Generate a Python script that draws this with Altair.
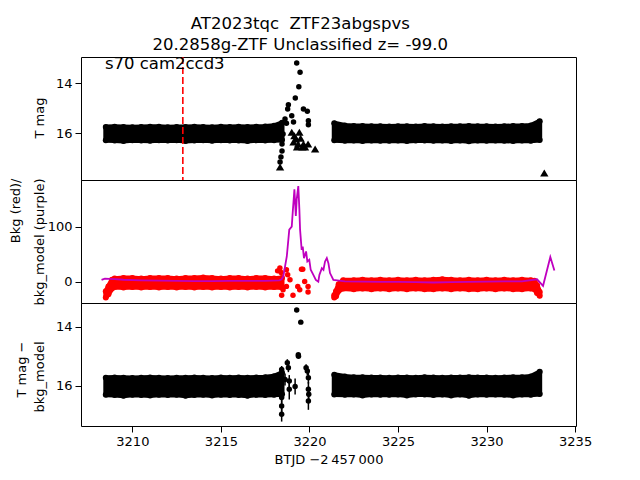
import altair as alt
import pandas as pd

FONT = "DejaVu Sans"
RED = "#ff0000"
PURPLE = "#bf00bf"

X_DOMAIN = [3207.1, 3235.05]
X_TICKS = [3210, 3215, 3220, 3225, 3230, 3235]

# ---------------- top panel: T mag ----------------
band1_t = [3208.5, 3209.0, 3209.5, 3210.0, 3210.5, 3211.0, 3211.5, 3212.0, 3212.5, 3213.0, 3213.5,
           3214.0, 3214.5, 3215.0, 3215.5, 3216.0, 3216.5, 3217.0, 3217.5, 3218.0, 3218.45]
band2_t = [3221.4, 3222.0, 3222.5, 3223.0, 3223.5, 3224.0, 3224.5, 3225.0, 3225.5, 3226.0, 3226.5, 3227.0,
           3227.5, 3228.0, 3228.5, 3229.0, 3229.5, 3230.0, 3230.5, 3231.0, 3231.5, 3232.0, 3232.5, 3233.0]

tmag1_hi = [15.75, 15.74, 15.75, 15.76, 15.75, 15.74, 15.74, 15.76, 15.75, 15.75, 15.74,
            15.75, 15.76, 15.74, 15.75, 15.74, 15.75, 15.74, 15.73, 15.70, 15.58]
tmag1_lo = [16.28, 16.29, 16.31, 16.28, 16.29, 16.30, 16.28, 16.29, 16.28, 16.31, 16.29,
            16.28, 16.30, 16.28, 16.29, 16.29, 16.31, 16.28, 16.29, 16.28, 16.27]
tmag2_hi = [15.60, 15.69, 15.71, 15.71, 15.72, 15.72, 15.73, 15.72, 15.72, 15.73, 15.71, 15.72,
            15.73, 15.72, 15.72, 15.71, 15.72, 15.72, 15.73, 15.72, 15.71, 15.71, 15.69, 15.52]
tmag2_lo = [16.28, 16.30, 16.29, 16.31, 16.29, 16.30, 16.30, 16.29, 16.31, 16.29, 16.29, 16.30,
            16.29, 16.31, 16.29, 16.32, 16.29, 16.30, 16.29, 16.30, 16.31, 16.29, 16.30, 16.27]

top_pt_t = [3219.28, 3219.47, 3219.40, 3219.20, 3218.81, 3218.77, 3219.66, 3219.88, 3219.94, 3219.94,
            3219.00, 3218.62, 3218.51, 3218.45, 3218.45, 3218.39, 3218.34, 3218.70, 3219.10]
top_pt_m = [13.19, 13.56, 14.14, 14.59, 14.86, 15.03, 15.03, 15.12, 15.50, 15.66,
            15.30, 15.43, 16.03, 16.43, 16.71, 16.95, 17.15, 15.60, 15.55]

top_tri_t = [3218.34, 3219.00, 3219.43, 3219.24, 3219.66, 3219.92, 3219.36, 3220.32, 3233.26,
             3219.15, 3219.50, 3219.60, 3219.75, 3219.30, 3219.10]
top_tri_m = [17.35, 15.96, 15.96, 16.23, 16.43, 16.43, 16.43, 16.63, 17.59,
             16.10, 16.20, 16.55, 16.55, 16.55, 16.35]

sector_line_t = [3212.85]
label_text = ["s70 cam2ccd3"]
label_t = [3208.45]
label_m = [13.43]

# ---------------- middle panel: background ----------------
bkg1_t = [3208.5, 3208.65, 3208.85, 3209.0, 3209.5, 3210.0, 3210.5, 3211.0, 3211.5, 3212.0, 3212.5,
          3213.0, 3213.5, 3214.0, 3214.5, 3215.0, 3215.5, 3216.0, 3216.5, 3217.0, 3217.5, 3218.0, 3218.45]
bkg1_hi = [-17, -8, 4, 6, 7, 7, 6, 7, 7, 7, 6, 7, 7, 8, 7, 6, 7, 7, 6, 7, 7, 6, 7]
bkg1_lo = [-28, -22, -12, -9, -10, -9, -10, -9, -10, -9, -10, -9, -10, -9, -10, -9, -10, -9, -10, -9, -10, -9, -10]

bkg2_t = [3221.4, 3221.5, 3221.65, 3221.9, 3222.5, 3223.0, 3223.5, 3224.0, 3224.5, 3225.0, 3225.5,
          3226.0, 3226.5, 3227.0, 3227.5, 3228.0, 3228.5, 3229.0, 3229.5, 3230.0, 3230.5, 3231.0,
          3231.5, 3232.0, 3232.5, 3232.7, 3232.85, 3233.0]
bkg2_hi = [-24, -17, -4, 3, 3, 4, 3, 4, 3, 4, 3, 4, 3, 4, 5, 4, 3, 4, 3, 4, 3, 4, 3, 4, 3, 2, -6, -18]
bkg2_lo = [-28, -26, -16, -12, -13, -12, -13, -12, -13, -12, -13, -12, -13, -13, -12, -13, -12, -13,
           -13, -12, -13, -12, -13, -13, -12, -13, -20, -25]

bkg_pt_t = [3218.33, 3218.70, 3218.77, 3219.55, 3218.51, 3219.07, 3219.34, 3219.45, 3219.73, 3219.92,
            3219.92, 3218.90, 3218.70, 3218.43, 3218.20, 3218.40, 3219.62]
bkg_pt_v = [25, 22, 13, 23, -14, -24, -8, -14, 1, -8, -18, 4, -8, -24, 20, 17, 23]

model_t = [3208.26, 3208.45, 3209.0, 3209.5, 3210.5, 3211.5, 3212.5, 3213.5, 3214.5, 3215.5, 3216.5,
           3217.5, 3218.3, 3218.43, 3218.52, 3218.72, 3218.86, 3219.00, 3219.06, 3219.15, 3219.23,
           3219.28, 3219.37, 3219.43, 3219.47, 3219.56, 3219.62, 3219.69, 3219.81, 3219.88, 3219.99,
           3220.07, 3220.22, 3220.36, 3220.50, 3220.56, 3220.70, 3220.79, 3220.88, 3220.98, 3221.07,
           3221.16, 3221.26, 3221.35, 3222.0, 3223.0, 3224.0, 3225.0, 3226.0, 3227.0, 3228.0, 3229.0,
           3230.0, 3231.0, 3232.0, 3232.85, 3233.19, 3233.60, 3233.83]
model_v = [3.6, 6, 5, 4, 3, 2.5, 2, 1.5, 1.5, 2, 2,
           2, 3, 4.8, 9.7, 46, 94.5, 100, 128, 167, 119,
           149, 173, 131, 94.5, 58, 64, 43, 55, 37, 40,
           22, 12.7, 3.6, 0.5, 12.7, 25, 22, 37, 43, 34,
           16, 9.7, 3.6, 1, 0.5, 0, 0, -0.5, -1, -0.5, 0,
           0.5, 1, 1, 4.8, -7, 45, 20.5]

# ---------------- bottom panel: T mag - bkg_model ----------------
btm1_hi = [15.73, 15.72, 15.73, 15.74, 15.73, 15.72, 15.73, 15.74, 15.73, 15.73, 15.72,
           15.73, 15.74, 15.72, 15.73, 15.72, 15.73, 15.72, 15.71, 15.68, 15.56]
btm1_lo = [16.31, 16.32, 16.34, 16.31, 16.32, 16.33, 16.31, 16.32, 16.31, 16.34, 16.32,
           16.31, 16.33, 16.31, 16.32, 16.32, 16.34, 16.31, 16.32, 16.31, 16.29]
btm2_hi = [15.63, 15.69, 15.71, 15.71, 15.72, 15.72, 15.73, 15.72, 15.72, 15.73, 15.71, 15.72,
           15.73, 15.72, 15.72, 15.71, 15.72, 15.72, 15.73, 15.72, 15.71, 15.71, 15.69, 15.53]
btm2_lo = [16.30, 16.31, 16.30, 16.33, 16.30, 16.31, 16.31, 16.30, 16.33, 16.30, 16.30, 16.32,
           16.30, 16.33, 16.30, 16.34, 16.30, 16.31, 16.30, 16.31, 16.33, 16.30, 16.31, 16.28]

btm_pt_t = [3219.28, 3219.51, 3219.37, 3219.38, 3218.75, 3218.81, 3218.43, 3218.62, 3218.86, 3218.86,
            3219.19, 3219.81, 3219.88, 3219.94, 3219.94, 3219.96, 3219.94, 3218.43, 3218.43, 3218.43]
btm_pt_m = [13.43, 13.84, 14.95, 15.00, 15.22, 15.39, 15.45, 15.79, 15.84, 16.12,
            16.03, 15.39, 15.50, 15.73, 16.12, 16.29, 16.52, 16.40, 16.69, 16.97]
btm_pt_e = [0.03, 0.04, 0.05, 0.05, 0.12, 0.15, 0.12, 0.2, 0.2, 0.35,
            0.27, 0.12, 0.15, 0.2, 0.25, 0.25, 0.3, 0.2, 0.25, 0.25]

TOP_DOMAIN = [12.95, 17.87]
MID_DOMAIN = [-38, 184]
BTM_DOMAIN = [13.19, 17.37]

W, H = 495, 123


def band_df(t1, hi1, lo1, t2, hi2, lo2):
    a = pd.DataFrame({"t": t1, "hi": hi1, "lo": lo1, "seg": "a"})
    b = pd.DataFrame({"t": t2, "hi": hi2, "lo": lo2, "seg": "b"})
    return pd.concat([a, b], ignore_index=True)


def edge_df(band):
    up = pd.DataFrame({"t": band["t"], "v": band["hi"]})
    dn = pd.DataFrame({"t": band["t"], "v": band["lo"]})
    return pd.concat([up, dn], ignore_index=True)


def xenc(show):
    if show:
        ax = alt.Axis(values=X_TICKS, format="d", title="BTJD \u22122\u2009457\u2009000",
                      labelFlush=False, tickSize=6, tickColor="black", domain=False,
                      labelPadding=3, titlePadding=5)
    else:
        ax = None
    return alt.X("t:Q", scale=alt.Scale(domain=X_DOMAIN, nice=False, zero=False), axis=ax)


def yscale(dom, rev):
    return alt.Scale(domain=dom, nice=False, zero=False, reverse=rev)


def yaxis(values, title, title_x, title_y, line_h):
    return alt.Axis(values=values, title=title, titleX=title_x, titleY=title_y,
                    titleAlign="right", titleBaseline="bottom", titleAngle=270,
                    titleLineHeight=line_h)


def band_layers(band, color, show_x, dom, rev, axis):
    area = alt.Chart(band).mark_area(color=color, stroke=color, strokeWidth=5, strokeJoin="round",
                                     opacity=1, clip=True).encode(
        x=xenc(show_x),
        y=alt.Y("hi:Q", scale=yscale(dom, rev), axis=axis),
        y2="lo:Q",
        detail="seg:N",
    )
    edges = alt.Chart(edge_df(band)).mark_circle(size=36, color=color, opacity=1, clip=True).encode(
        x=xenc(show_x), y=alt.Y("v:Q"))
    return [area, edges]


# ---- top ----
top_band = band_df(band1_t, tmag1_hi, tmag1_lo, band2_t, tmag2_hi, tmag2_lo)
top = alt.layer(
    *band_layers(top_band, "black", False, TOP_DOMAIN, True, yaxis([14, 16], "T mag", -35, 40, 15)),
    alt.Chart(pd.DataFrame({"t": top_pt_t, "m": top_pt_m})).mark_circle(
        size=30, color="black", opacity=1, clip=True).encode(x=xenc(False), y=alt.Y("m:Q")),
    alt.Chart(pd.DataFrame({"t": top_tri_t, "m": top_tri_m})).mark_point(
        shape="triangle-up", filled=True, size=70, color="black", opacity=1, clip=True).encode(
        x=xenc(False), y=alt.Y("m:Q")),
    alt.Chart(pd.DataFrame({"t": sector_line_t})).mark_rule(
        color=RED, strokeWidth=1.6, strokeDash=[7, 3]).encode(x=xenc(False)),
    alt.Chart(pd.DataFrame({"t": label_t, "m": label_m, "s": label_text})).mark_text(
        align="left", baseline="alphabetic", fontSize=16.5, font=FONT, color="black").encode(
        x=xenc(False), y=alt.Y("m:Q"), text="s:N"),
).properties(width=W, height=H)

# ---- middle ----
mid_band = band_df(bkg1_t, bkg1_hi, bkg1_lo, bkg2_t, bkg2_hi, bkg2_lo)
mid = alt.layer(
    *band_layers(mid_band, RED, False, MID_DOMAIN, False,
                 yaxis([0, 100], ["Bkg (red)/", "bkg_model (purple)"], -59, -2, 24)),
    alt.Chart(pd.DataFrame({"t": bkg_pt_t, "v": bkg_pt_v})).mark_circle(
        size=30, color=RED, opacity=1, clip=True).encode(x=xenc(False), y=alt.Y("v:Q")),
    alt.Chart(pd.DataFrame({"t": model_t, "v": model_v})).mark_line(
        color=PURPLE, strokeWidth=1.8, clip=True).encode(x=xenc(False), y=alt.Y("v:Q")),
).properties(width=W, height=H)

# ---- bottom ----
btm_band = band_df(band1_t, btm1_hi, btm1_lo, band2_t, btm2_hi, btm2_lo)
btm_pts = pd.DataFrame({"t": btm_pt_t, "m": btm_pt_m, "e": btm_pt_e})
btm_pts["m1"] = btm_pts["m"] - btm_pts["e"]
btm_pts["m2"] = btm_pts["m"] + btm_pts["e"]
btm = alt.layer(
    *band_layers(btm_band, "black", True, BTM_DOMAIN, True,
                 yaxis([14, 16], ["T mag \u2212", "bkg_model"], -52.5, 38, 17.5)),
    alt.Chart(btm_pts).mark_rule(color="black", strokeWidth=1.5, clip=True).encode(
        x=xenc(True), y=alt.Y("m1:Q"), y2="m2:Q"),
    alt.Chart(btm_pts).mark_circle(size=30, color="black", opacity=1, clip=True).encode(
        x=xenc(True), y=alt.Y("m:Q")),
).properties(width=W, height=H)

chart = alt.vconcat(top, mid, btm, spacing=0, bounds="flush").properties(
    title=alt.TitleParams(
        text=["AT2023tqc\u00a0 ZTF23abgspvs", "20.2858g-ZTF Unclassified z= -99.0"],
        font=FONT, fontSize=16.5, fontWeight="normal", color="black", anchor="middle",
        lineHeight=21, offset=2,
    ),
    padding={"left": 0, "top": 8, "right": 5, "bottom": 5},
).configure_view(
    stroke="black", strokeWidth=1
).configure_axis(
    grid=False, domain=False, ticks=True, tickSize=6, tickColor="black", tickWidth=1,
    labelFont=FONT, labelFontSize=13, labelColor="black", labelPadding=3,
    titleFont=FONT, titleFontSize=13, titleFontWeight="normal", titleColor="black",
    titlePadding=5,
)

chart.save("out.html", embed_options={"renderer": "svg", "actions": False})
